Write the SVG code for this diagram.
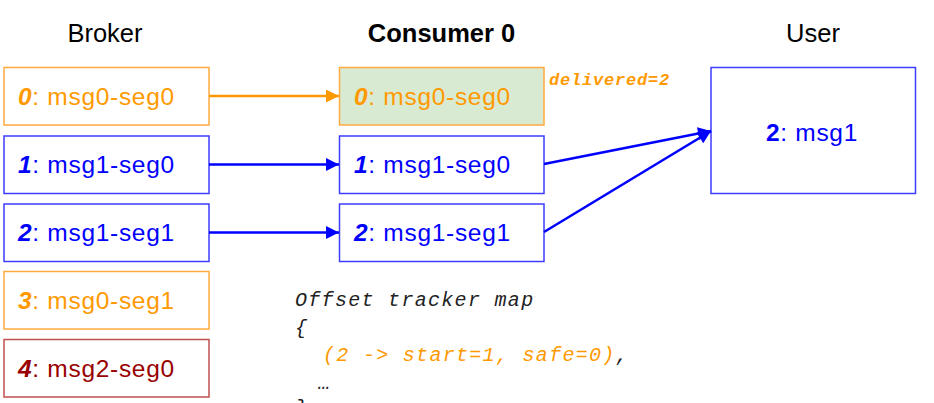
<svg xmlns="http://www.w3.org/2000/svg" width="934" height="403" viewBox="0 0 934 403">
<defs>
<style>
.hdr{font-family:"Liberation Sans",Arial,sans-serif;font-size:25.5px;fill:#000;text-anchor:middle}
.lbl{font-family:"Liberation Sans",Arial,sans-serif;font-size:24.5px;letter-spacing:0.7px}
.b{font-weight:bold;font-style:italic}
.box{stroke-width:1.5}
.org{fill:#ff9900}
.blu{fill:#0000ff}
.red{fill:#990000}
.code{font-family:"Liberation Mono","Courier New",monospace;font-style:italic;font-size:20px;letter-spacing:1.3px;fill:#222}
.conn{fill:none;stroke-width:2.6}
</style>
<marker id="ao" viewBox="0 0 10 10" refX="10" refY="5" markerUnits="userSpaceOnUse" markerWidth="15" markerHeight="13" orient="auto"><path d="M0,0 L10,5 L0,10 z" fill="#ff9900"/></marker>
<marker id="ab" viewBox="0 0 10 10" refX="10" refY="5" markerUnits="userSpaceOnUse" markerWidth="15" markerHeight="13" orient="auto"><path d="M0,0 L10,5 L0,10 z" fill="#0000ff"/></marker>
</defs>
<rect width="934" height="403" fill="#fff"/>
<text class="hdr" x="105" y="41.5">Broker</text>
<text class="hdr" x="441.5" y="41.5" font-weight="bold">Consumer 0</text>
<text class="hdr" x="813" y="41.5">User</text>

<g id="broker0"><rect class="box" x="4" y="67.5" width="205" height="57.5" fill="#fff" stroke="#ffab40"/><text class="lbl org" x="18" y="104.5"><tspan class="b">0</tspan>: msg0-seg0</text></g>
<g id="broker1"><rect class="box" x="4" y="136" width="205" height="57.5" fill="#fff" stroke="#3d3dff"/><text class="lbl blu" x="18" y="173"><tspan class="b">1</tspan>: msg1-seg0</text></g>
<g id="broker2"><rect class="box" x="4" y="204" width="205" height="57.5" fill="#fff" stroke="#3d3dff"/><text class="lbl blu" x="18" y="241"><tspan class="b">2</tspan>: msg1-seg1</text></g>
<g id="broker3"><rect class="box" x="4" y="271.5" width="205" height="57.5" fill="#fff" stroke="#ffab40"/><text class="lbl org" x="18" y="308.5"><tspan class="b">3</tspan>: msg0-seg1</text></g>
<g id="broker4"><rect class="box" x="4" y="339.5" width="205" height="57.5" fill="#fff" stroke="#c0504d"/><text class="lbl red" x="18" y="376.5"><tspan class="b">4</tspan>: msg2-seg0</text></g>

<g id="consumer0"><rect class="box" x="339.5" y="67.5" width="204.5" height="57.5" fill="#d9ead3" stroke="#ffab40"/><text class="lbl org" x="354" y="104.5"><tspan class="b">0</tspan>: msg0-seg0</text></g>
<g id="consumer1"><rect class="box" x="339.5" y="136" width="204.5" height="57.5" fill="#fff" stroke="#3d3dff"/><text class="lbl blu" x="354" y="173"><tspan class="b">1</tspan>: msg1-seg0</text></g>
<g id="consumer2"><rect class="box" x="339.5" y="204" width="204.5" height="57.5" fill="#fff" stroke="#3d3dff"/><text class="lbl blu" x="354" y="241"><tspan class="b">2</tspan>: msg1-seg1</text></g>

<g id="user"><rect class="box" x="711" y="67.5" width="204.5" height="126" fill="#fff" stroke="#3d3dff"/><text class="lbl blu" x="812" y="141" text-anchor="middle"><tspan font-weight="bold">2</tspan>: msg1</text></g>

<g id="delivered"><text x="549" y="84.5" font-family="Liberation Mono,'Courier New',monospace" font-size="17" font-weight="bold" font-style="italic" letter-spacing="0.8" fill="#ff9900">delivered=2</text></g>

<g id="connectors">
<line class="conn" x1="209" y1="96" x2="339" y2="96" stroke="#ff9900" marker-end="url(#ao)"/>
<line class="conn" x1="209" y1="164.5" x2="339" y2="164.5" stroke="#0000ff" marker-end="url(#ab)"/>
<line class="conn" x1="209" y1="232.5" x2="339" y2="232.5" stroke="#0000ff" marker-end="url(#ab)"/>
<line class="conn" x1="544" y1="164" x2="711" y2="131" stroke="#0000ff" marker-end="url(#ab)"/>
<line class="conn" x1="544" y1="232" x2="711" y2="131" stroke="#0000ff" marker-end="url(#ab)"/>
</g>

<g id="tracker">
<text class="code" x="295" y="306">Offset tracker map</text>
<text class="code" x="295" y="333.5">{</text>
<text class="code" x="323" y="361"><tspan fill="#ff9900">(2 -&gt; start=1, safe=0)</tspan>,</text>
<text class="code" x="318" y="388.5">…</text>
<text class="code" x="295" y="414">}</text>
</g>
</svg>
